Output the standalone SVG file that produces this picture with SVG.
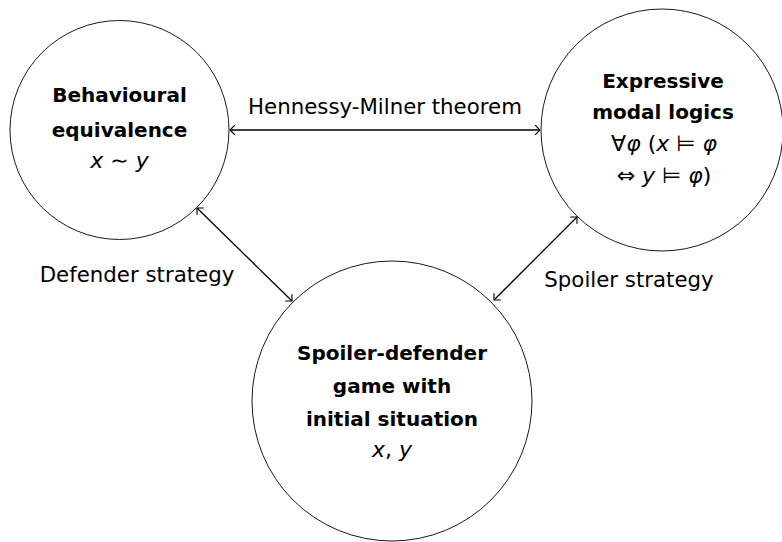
<svg xmlns="http://www.w3.org/2000/svg" width="782" height="542" viewBox="0 0 782 542">
<style>
.node{fill:#fff;stroke:#000;stroke-width:0.9}
.b{font-family:"DejaVu Sans",sans-serif;font-weight:bold;font-size:20px;text-anchor:middle;fill:#000}
.m{font-family:"DejaVu Sans",sans-serif;font-size:22px;text-anchor:middle;fill:#000}
.i{font-style:italic}
.lbl{font-family:"DejaVu Sans",sans-serif;font-size:21.3px;fill:#000;text-anchor:middle}
.edge{fill:none;stroke:#000;stroke-width:1.3}
</style>
<defs>
<marker id="tip" viewBox="-6 -6 8 12" refX="0" refY="0" markerWidth="8" markerHeight="12" markerUnits="userSpaceOnUse" orient="auto-start-reverse">
<path d="M -4.5 -4.5 Q -1.2 -1.2 0 0 Q -1.2 1.2 -4.5 4.5" fill="none" stroke="#000" stroke-width="1.1" stroke-linecap="round"/>
</marker>
</defs>
<g id="edges">
<line class="edge" x1="230" y1="130" x2="540" y2="130" marker-start="url(#tip)" marker-end="url(#tip)"/>
<line class="edge" x1="197" y1="208" x2="292" y2="301" marker-start="url(#tip)" marker-end="url(#tip)"/>
<line class="edge" x1="577" y1="217" x2="494" y2="300" marker-start="url(#tip)" marker-end="url(#tip)"/>
<text class="lbl" x="385" y="114">Hennessy-Milner theorem</text>
<text class="lbl" x="137" y="282">Defender strategy</text>
<text class="lbl" x="629" y="287">Spoiler strategy</text>
</g>
<g id="behav">
<circle class="node" cx="119.5" cy="130" r="109.5"/>
<text class="b" x="119.5" y="102">Behavioural</text>
<text class="b" x="119.5" y="137">equivalence</text>
<text class="m" x="119.5" y="168"><tspan class="i">x</tspan> ∼ <tspan class="i">y</tspan></text>
</g>
<g id="modal">
<circle class="node" cx="662" cy="130" r="121"/>
<text class="b" x="663" y="88">Expressive</text>
<text class="b" x="663" y="119">modal logics</text>
<text class="m" x="664" y="151">∀<tspan class="i">φ</tspan> (<tspan class="i">x</tspan> ⊨ <tspan class="i">φ</tspan></text>
<text class="m" x="664" y="183">⇔ <tspan class="i">y</tspan> ⊨ <tspan class="i">φ</tspan>)</text>
</g>
<g id="game">
<circle class="node" cx="392" cy="401" r="140"/>
<text class="b" x="392" y="360">Spoiler-defender</text>
<text class="b" x="392" y="393">game with</text>
<text class="b" x="392" y="426">initial situation</text>
<text class="m" x="392" y="457"><tspan class="i">x</tspan>, <tspan class="i">y</tspan></text>
</g>
</svg>
